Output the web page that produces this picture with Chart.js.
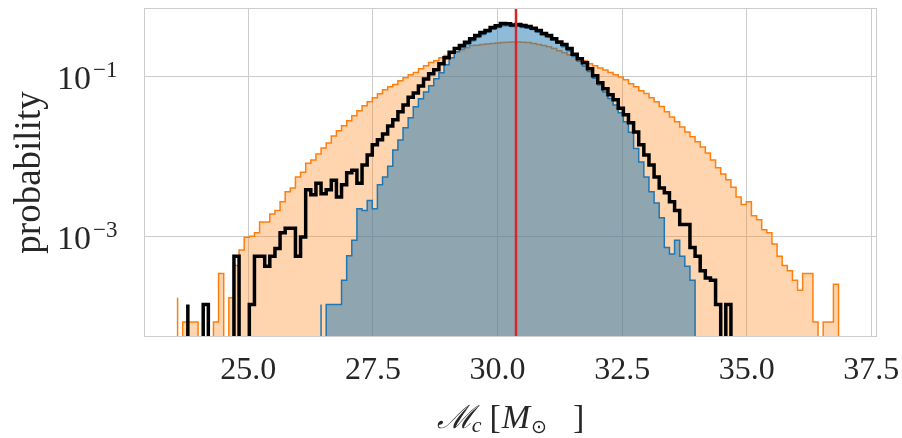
<!DOCTYPE html>
<html>
<head>
<meta charset="utf-8">
<script src="https://cdn.jsdelivr.net/npm/chart.js@4.4.0/dist/chart.umd.min.js"></script>
<style>
  html, body { margin: 0; padding: 0; background: #fff; }
  canvas { display: block; }
</style>
</head>
<body>
<canvas id="chart" width="902" height="438"></canvas>
<script>
// Shared histogram bins (left edge of bin 0 and bin width, in M_sun)
const binStart = 23.58;
const binWidth = 0.1028;

// Probability per bin (0 = empty bin)
const orangeFirstBin = 0;
const orangeProb = [
    1.7e-4, 0, 8.4e-5, 8.4e-5, 8.4e-5, 0, 0, 0, 8.4e-5, 3.4e-4,
    0, 1.7e-4, 4.3e-4, 6.7e-4, 9.7e-4, 1.0e-3, 1.1e-3, 1.5e-3, 1.5e-3, 1.9e-3,
    2.1e-3, 2.7e-3, 3.6e-3, 4.0e-3, 5.5e-3, 6.3e-3, 8.2e-3, 9.0e-3, 0.0107, 0.0127,
    0.0147, 0.018, 0.0209, 0.0241, 0.0278, 0.0321, 0.0371, 0.0429, 0.0482, 0.054,
    0.0606, 0.068, 0.074, 0.079, 0.088, 0.096, 0.105, 0.112, 0.125, 0.136,
    0.149, 0.157, 0.171, 0.182, 0.193, 0.204, 0.216, 0.229, 0.243, 0.246,
    0.25, 0.254, 0.258, 0.262, 0.265, 0.268, 0.27, 0.27, 0.268, 0.265,
    0.258, 0.25, 0.243, 0.235, 0.223, 0.21, 0.198, 0.187, 0.176, 0.169,
    0.157, 0.144, 0.136, 0.127, 0.12, 0.112, 0.105, 0.098, 0.091, 0.081,
    0.074, 0.066, 0.061, 0.054, 0.048, 0.042, 0.036, 0.031, 0.027, 0.0233,
    0.0202, 0.0175, 0.0152, 0.0131, 0.011, 0.009, 0.0072, 0.006, 0.0051, 0.0041,
    0.0031, 0.0025, 0.0027, 0.0018, 0.0016, 0.0012, 0.0011, 0.0008, 0.00056, 0.00043,
    0.00037, 0.00028, 0.00021, 0.00034, 0.00034, 8.4e-5, 0, 8.4e-5, 8.4e-5, 2.5e-4
];

const blackFirstBin = 2;
const blackProb = [
    1.4e-4, 0, 0, 0, 1.4e-4, 0, 0, 0, 0, 0,
    5.6e-4, 0, 0, 1.4e-4, 5.6e-4, 5.6e-4, 4.2e-4, 5.6e-4, 7.0e-4, 1.1e-3,
    1.26e-3, 1.26e-3, 5.6e-4, 9.8e-4, 3.8e-3, 3.3e-3, 4.6e-3, 3.4e-3, 3.8e-3, 5.0e-3,
    3.1e-3, 4.4e-3, 6.2e-3, 6.7e-3, 4.6e-3, 7.8e-3, 0.0104, 0.0139, 0.0161, 0.019,
    0.024, 0.0286, 0.036, 0.044, 0.055, 0.062, 0.076, 0.093, 0.108, 0.121,
    0.144, 0.171, 0.2, 0.223, 0.243, 0.268, 0.297, 0.325, 0.355, 0.375,
    0.41, 0.43, 0.46, 0.455, 0.44, 0.446, 0.435, 0.42, 0.40, 0.375,
    0.345, 0.325, 0.297, 0.27, 0.25, 0.223, 0.19, 0.166, 0.148, 0.125,
    0.102, 0.083, 0.07, 0.059, 0.051, 0.040, 0.033, 0.0262, 0.0202, 0.0139,
    0.0104, 0.0078, 0.0055, 0.004, 0.0035, 0.0027, 0.0021, 0.0014, 0.0014, 0.00072,
    0.00056, 0.00037, 0.0003, 0.00028, 1.4e-4, 0, 1.4e-4
];

const blueFirstBin = 28;
const blueProb = [
    1.4e-4, 0, 1.4e-4, 1.4e-4, 1.4e-4, 2.8e-4, 5.7e-4, 8.9e-4, 2.2e-3, 2.1e-3,
    2.8e-3, 2.2e-3, 4.4e-3, 5.5e-3, 7.5e-3, 0.012, 0.016, 0.0227, 0.0303, 0.0417,
    0.0525, 0.064, 0.0764, 0.0935, 0.111, 0.14, 0.171, 0.204, 0.229, 0.25,
    0.28, 0.31, 0.334, 0.36, 0.39, 0.41, 0.43, 0.43, 0.42, 0.425,
    0.41, 0.40, 0.385, 0.36, 0.33, 0.31, 0.285, 0.26, 0.235, 0.21,
    0.18, 0.155, 0.135, 0.115, 0.095, 0.078, 0.064, 0.053, 0.044, 0.035,
    0.027, 0.02, 0.0125, 0.0085, 0.0055, 0.0036, 0.0026, 0.0017, 0.00072, 0.0006,
    0.00089, 0.00056, 0.00042, 0.00028
];

// Vertical red marker
const markerX = 30.37;

// Axes
const xRange = [22.906, 37.613];
const yRange = [5.47e-5, 0.718];
const xTicks = [25, 27.5, 30, 32.5, 35, 37.5];
const yTicks = [0.1, 0.001];
const yTickExponents = ['\u22121', '\u22123'];

const textColor = '#262626';
const gridColor = '#cccccc';
const serif = '"Liberation Serif", "DejaVu Serif", serif';
const emptyBin = 1e-7; // below the axis, so empty bins fall to the floor

function histPoints(firstBin, values) {
    const pts = [{ x: binStart + firstBin * binWidth, y: emptyBin }];
    values.forEach((v, i) => {
        pts.push({ x: binStart + (firstBin + i) * binWidth, y: v > 0 ? v : emptyBin });
    });
    pts.push({ x: binStart + (firstBin + values.length) * binWidth, y: emptyBin });
    return pts;
}

// x title pieces: text, font, vertical shift, gap before
const xTitleParts = [
    { text: '\u2133', font: 'italic 32px "DejaVu Serif", serif', dy: 0, gap: 0 },
    { text: 'c', font: 'italic 22px ' + serif, dy: 4, gap: -2 },
    { text: '[', font: '34px ' + serif, dy: 0, gap: 8 },
    { text: 'M', font: 'italic 34px ' + serif, dy: 0, gap: 1 },
    { text: '\u2299', font: '19px "DejaVu Sans", sans-serif', dy: 5, gap: 1 },
    { text: ']', font: '34px ' + serif, dy: 0, gap: 26 }
];

// y tick labels with superscripts, x title with subscripts, frame
const mathLabels = {
    id: 'mathLabels',
    afterDraw(chart) {
        const { ctx, chartArea: a, scales } = chart;
        ctx.save();

        ctx.strokeStyle = gridColor;
        ctx.lineWidth = 1;
        ctx.strokeRect(a.left + 0.5, a.top + 0.5, a.right - a.left - 1, a.bottom - a.top - 1);

        ctx.fillStyle = textColor;
        ctx.textBaseline = 'alphabetic';
        yTicks.forEach((v, i) => {
            const py = scales.y.getPixelForValue(v);
            ctx.font = '34px ' + serif;
            ctx.textAlign = 'right';
            ctx.fillText('10', a.left - 53, py + 13);
            ctx.font = '23px ' + serif;
            ctx.textAlign = 'left';
            ctx.fillText(yTickExponents[i], a.left - 51, py + 1);
        });

        ctx.textAlign = 'left';
        let total = 0;
        const widths = xTitleParts.map(p => {
            ctx.font = p.font;
            const w = ctx.measureText(p.text).width;
            total += p.gap + w;
            return w;
        });
        let x = (a.left + a.right) / 2 - total / 2;
        const base = a.bottom + 91;
        xTitleParts.forEach((p, i) => {
            x += p.gap;
            ctx.font = p.font;
            ctx.fillText(p.text, x, base + p.dy);
            x += widths[i];
        });

        ctx.restore();
    }
};

new Chart(document.getElementById('chart'), {
    type: 'line',
    data: {
        datasets: [
            {
                data: [{ x: markerX, y: yRange[0] }, { x: markerX, y: yRange[1] }],
                borderColor: '#d62728',
                borderWidth: 2.5,
                pointRadius: 0,
                fill: false
            },
            {
                data: histPoints(blackFirstBin, blackProb),
                borderColor: '#000000',
                borderWidth: 3.5,
                stepped: 'after',
                pointRadius: 0,
                fill: false
            },
            {
                data: histPoints(blueFirstBin, blueProb),
                borderColor: '#1f77b4',
                backgroundColor: 'rgba(31, 119, 180, 0.5)',
                borderWidth: 1.5,
                stepped: 'after',
                pointRadius: 0,
                fill: 'start'
            },
            {
                data: histPoints(orangeFirstBin, orangeProb),
                borderColor: '#ff7f0e',
                backgroundColor: 'rgba(255, 127, 14, 0.33)',
                borderWidth: 1.5,
                stepped: 'after',
                pointRadius: 0,
                fill: 'start'
            }
        ]
    },
    options: {
        responsive: false,
        animation: false,
        devicePixelRatio: 1,
        layout: { padding: { left: 4, right: 25, top: 8, bottom: 41 } },
        plugins: {
            legend: { display: false },
            tooltip: { enabled: false }
        },
        scales: {
            x: {
                type: 'linear',
                min: xRange[0],
                max: xRange[1],
                afterBuildTicks: s => { s.ticks = xTicks.map(v => ({ value: v })); },
                afterFit: s => { s.paddingLeft = 0; s.paddingRight = 0; s.height = 60; },
                ticks: {
                    padding: 14,
                    color: textColor,
                    font: { family: serif, size: 32 },
                    callback: v => v.toFixed(1)
                },
                grid: { color: gridColor, lineWidth: 1, drawTicks: false },
                border: { display: false }
            },
            y: {
                type: 'logarithmic',
                min: yRange[0],
                max: yRange[1],
                afterBuildTicks: s => { s.ticks = yTicks.map(v => ({ value: v })); },
                afterFit: s => { s.width = 140; },
                ticks: { display: false },
                grid: { color: gridColor, lineWidth: 1, drawTicks: false },
                border: { display: false },
                title: {
                    display: true,
                    text: 'probability',
                    color: textColor,
                    font: { family: serif, size: 37 },
                    padding: { top: 4, bottom: 4 }
                }
            }
        }
    },
    plugins: [mathLabels]
});
</script>
</body>
</html>
